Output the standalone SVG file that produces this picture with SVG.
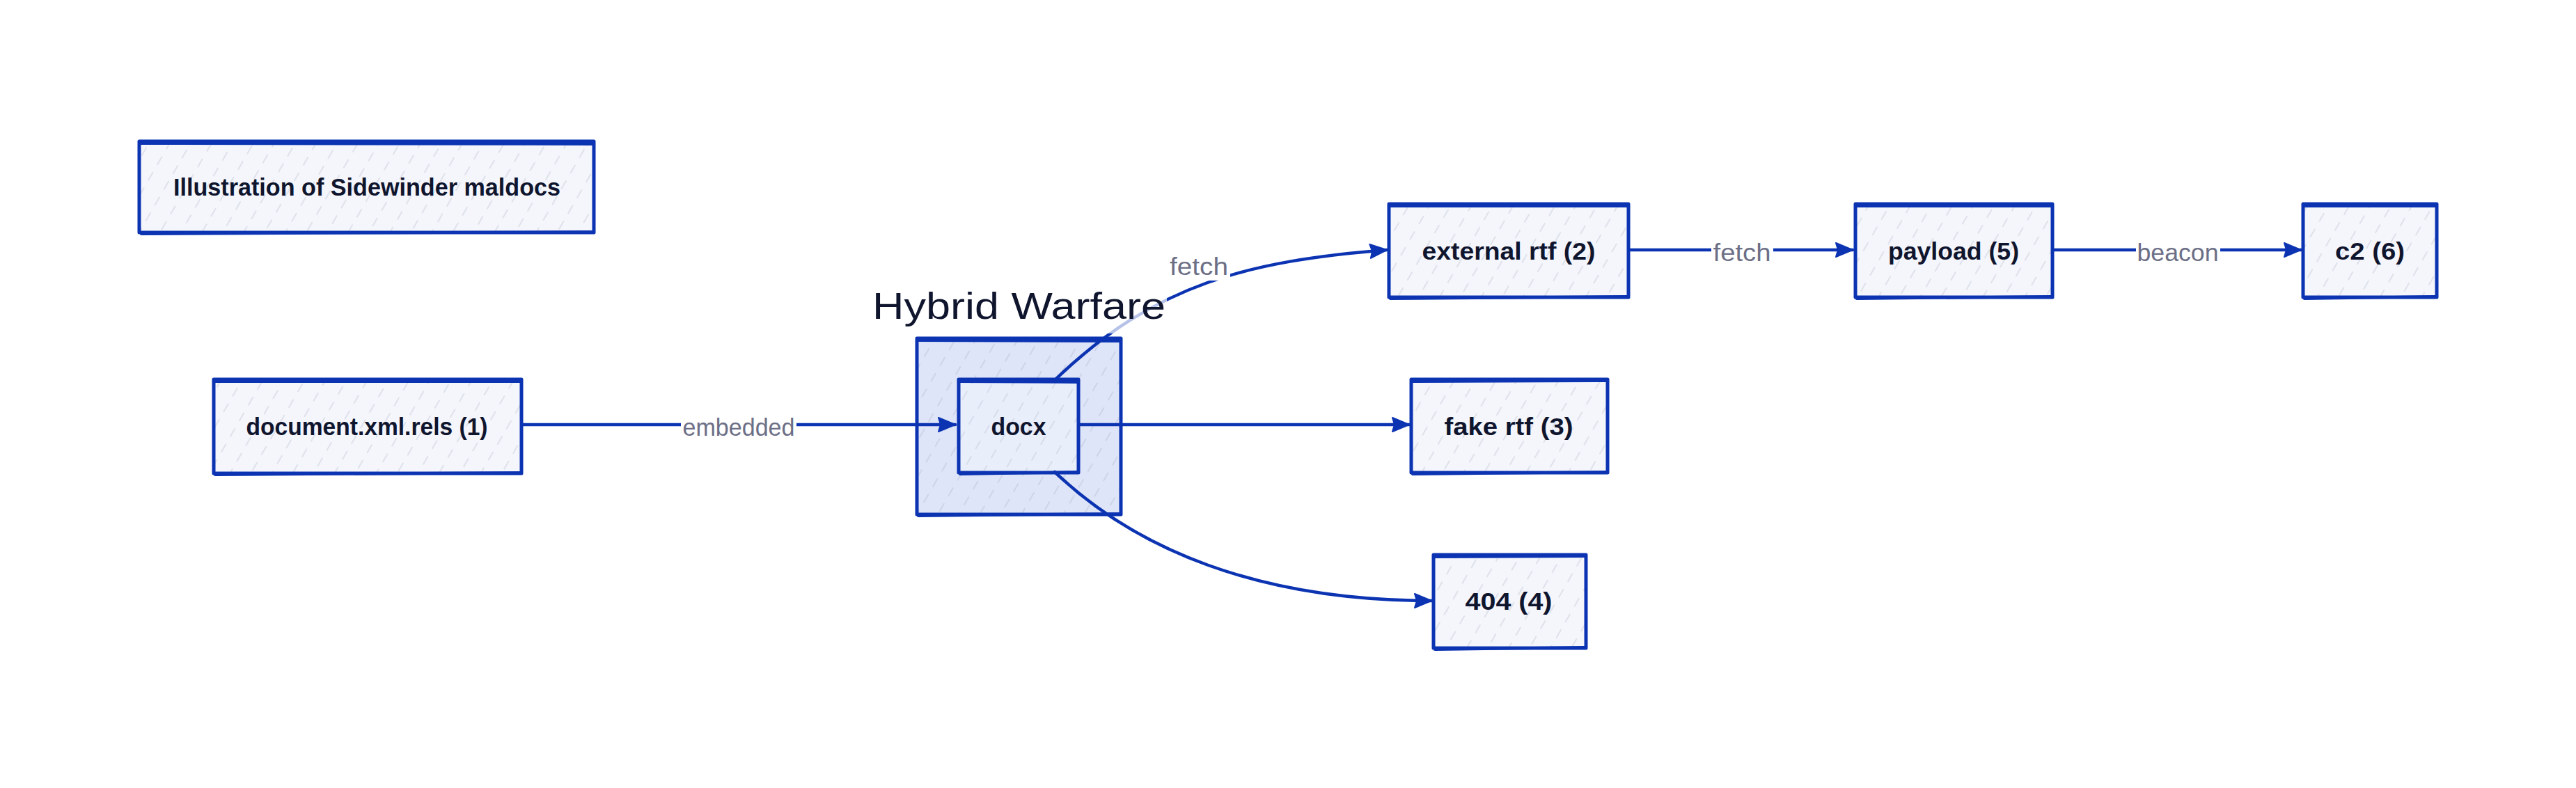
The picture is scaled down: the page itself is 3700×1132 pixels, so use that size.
<svg xmlns="http://www.w3.org/2000/svg" width="3700" height="1132" viewBox="0 0 3700 1132">
<style>
.box{stroke:#0c34b2;stroke-width:5;stroke-linejoin:round}
.rough{fill:none;stroke:#0c34b2;stroke-width:4;stroke-linecap:round}
.edge{fill:none;stroke:#0c34b2;stroke-width:4.5;stroke-linecap:round}
.t{font-family:"Liberation Sans",Arial,sans-serif;font-size:35px;font-weight:bold;fill:#10152e;text-anchor:middle;dominant-baseline:central}
.lbl{font-family:"Liberation Sans",Arial,sans-serif;font-size:35px;fill:#6c6f86;text-anchor:middle;dominant-baseline:central}
.gt{font-family:"Liberation Sans",Arial,sans-serif;font-size:54px;fill:#10152e}
</style>
<defs>
<pattern id="hN" patternUnits="userSpaceOnUse" width="26" height="26" patternTransform="rotate(30)">
<rect width="26" height="26" fill="#f4f6fc"/>
<line x1="2" y1="0" x2="2" y2="26" stroke="#d4d7e2" stroke-width="1.3" stroke-dasharray="14 12"/>
</pattern>
<pattern id="hG" patternUnits="userSpaceOnUse" width="26" height="26" patternTransform="rotate(30)">
<rect width="26" height="26" fill="#dfe5f8"/>
<line x1="2" y1="0" x2="2" y2="26" stroke="#c4cbe2" stroke-width="1.3" stroke-dasharray="14 12"/>
</pattern>
<pattern id="hI" patternUnits="userSpaceOnUse" width="26" height="26" patternTransform="rotate(30)">
<rect width="26" height="26" fill="#e9eefb"/>
<line x1="2" y1="0" x2="2" y2="26" stroke="#cfd4e4" stroke-width="1.3" stroke-dasharray="14 12"/>
</pattern>
<marker id="ah" markerUnits="userSpaceOnUse" markerWidth="30" markerHeight="26" refX="25" refY="12" orient="auto">
<path d="M1,2 L25,12 L1,22 L4,12 Z" fill="#0c34b2" stroke="#0c34b2" stroke-width="2" stroke-linejoin="round"/>
</marker>
</defs>
<rect width="3700" height="1132" fill="#ffffff"/>

<g id="title-node">
<rect class="box" x="200" y="203" width="653" height="131" fill="url(#hN)"/>
<path class="rough" d="M202,206 L852,207 M203,336 L850,333"/>
<text class="t" x="527" y="268" textLength="556" lengthAdjust="spacingAndGlyphs">Illustration of Sidewinder maldocs</text>
</g>

<g id="hybrid-warfare">
<rect class="box" x="1317" y="486" width="293" height="253" fill="url(#hG)"/>
<path class="rough" d="M1318,489 L1608,490 M1319,741 L1608,738"/>
</g>

<g id="document-xml-rels">
<rect class="box" x="307" y="545" width="442" height="135" fill="url(#hN)"/>
<path class="rough" d="M308,548 L748,548 M309,682 L747,679"/>
<text class="t" x="527" y="612" textLength="347" lengthAdjust="spacingAndGlyphs">document.xml.rels (1)</text>
</g>

<g id="docx">
<rect class="box" x="1377" y="545" width="172" height="134" fill="url(#hI)"/>
<path class="rough" d="M1378,548 L1548,549 M1379,681 L1548,678"/>
<text class="t" x="1463" y="612" textLength="79" lengthAdjust="spacingAndGlyphs">docx</text>
</g>

<g id="external-rtf">
<rect class="box" x="1995" y="293" width="344" height="134" fill="url(#hN)"/>
<path class="rough" d="M1996,296 L2338,296 M1997,429 L2337,426"/>
<text class="t" x="2167" y="360" textLength="249" lengthAdjust="spacingAndGlyphs">external rtf (2)</text>
</g>

<g id="payload">
<rect class="box" x="2665" y="293" width="283" height="134" fill="url(#hN)"/>
<path class="rough" d="M2666,296 L2947,296 M2667,429 L2946,426"/>
<text class="t" x="2806" y="360" textLength="188" lengthAdjust="spacingAndGlyphs">payload (5)</text>
</g>

<g id="c2">
<rect class="box" x="3308" y="293" width="192" height="134" fill="url(#hN)"/>
<path class="rough" d="M3309,296 L3499,296 M3310,429 L3498,426"/>
<text class="t" x="3404" y="360" textLength="100" lengthAdjust="spacingAndGlyphs">c2 (6)</text>
</g>

<g id="fake-rtf">
<rect class="box" x="2027" y="545" width="282" height="134" fill="url(#hN)"/>
<path class="rough" d="M2028,548 L2308,547 M2029,681 L2307,678"/>
<text class="t" x="2167" y="612" textLength="185" lengthAdjust="spacingAndGlyphs">fake rtf (3)</text>
</g>

<g id="n404">
<rect class="box" x="2059" y="797" width="219" height="134" fill="url(#hN)"/>
<path class="rough" d="M2060,800 L2277,799 M2061,933 L2276,930"/>
<text class="t" x="2167" y="863" textLength="125" lengthAdjust="spacingAndGlyphs">404 (4)</text>
</g>

<g id="connectors">
<path class="edge" d="M750,610 L1372,610" marker-end="url(#ah)"/>
<path class="edge" d="M1516,545 C1660,407 1794,375 1992,359" marker-end="url(#ah)"/>
<path class="edge" d="M1550,610 L2024,610" marker-end="url(#ah)"/>
<path class="edge" d="M1515,678 C1630,788 1806,863 2056,863" marker-end="url(#ah)"/>
<path class="edge" d="M2340,359 L2661,359" marker-end="url(#ah)"/>
<path class="edge" d="M2948,359 L3305,359" marker-end="url(#ah)"/>
<rect x="978" y="594" width="166" height="38" fill="#ffffff"/>
<text class="lbl" x="1061" y="613" textLength="161" lengthAdjust="spacingAndGlyphs">embedded</text>
<rect x="1677" y="365" width="90" height="38" fill="#ffffff"/>
<text class="lbl" x="1722" y="382" textLength="84" lengthAdjust="spacingAndGlyphs">fetch</text>
<rect x="2458" y="342" width="89" height="38" fill="#ffffff"/>
<text class="lbl" x="2502" y="362" textLength="83" lengthAdjust="spacingAndGlyphs">fetch</text>
<rect x="3068" y="342" width="121" height="38" fill="#ffffff"/>
<text class="lbl" x="3128" y="362" textLength="117" lengthAdjust="spacingAndGlyphs">beacon</text>
</g>

<g id="hybrid-warfare-title">
<rect x="1248" y="405" width="428" height="74" fill="#ffffff" fill-opacity="0.7"/>
<text class="gt" x="1253" y="458" textLength="421" lengthAdjust="spacingAndGlyphs">Hybrid Warfare</text>
</g>
</svg>
